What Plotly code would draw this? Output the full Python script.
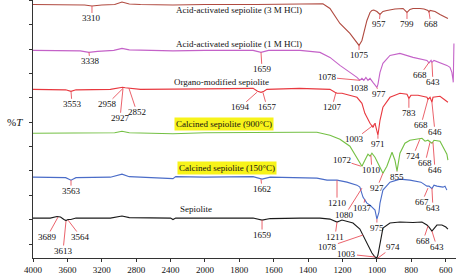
import numpy as np
import plotly.graph_objects as go

# ---------------- data (wavenumber cm-1, offset %T in arbitrary units) ----------------
w_3m = [4000, 3600, 3400, 3314, 3200, 3050, 2965, 2880, 2750, 2372, 2000, 1700, 1450, 1314, 1273, 1215, 1157, 1116,
        1104, 1087, 1058, 1040, 1029, 1018, 1000, 982, 965, 942, 895, 848, 825, 808, 790, 750, 726, 703, 697, 691,
        662, 633, 599, 587]
t_3m = [240, 240, 239.5, 238.5, 239.5, 240, 242.5, 240.5, 240, 239.5, 240, 240, 240.5, 240.7, 236, 221, 211, 202,
        199, 204, 224, 232, 234, 234.5, 233, 230, 233, 234, 235.5, 236, 232, 235, 236, 236, 235.5, 234, 232.5, 234,
        233, 230, 227, 226]

w_1m = [4000, 3600, 3450, 3349, 3250, 3060, 2965, 2880, 2700, 2372, 2000, 1720, 1674, 1630, 1447, 1331, 1273, 1215,
        1157, 1116, 1099, 1087, 1076, 1064, 1052, 1040, 1023, 1006, 1000, 994, 982, 965, 924, 866, 790, 709, 697,
        685, 680, 668, 633, 593, 575, 564, 557, 556, 552]
t_1m = [194, 194, 193.5, 192, 193, 194, 196, 194.5, 194, 193.5, 194, 194, 192, 194, 194, 192, 187, 179,
        172, 167, 164, 166, 164, 167, 164, 166, 162, 158, 157, 160, 172, 181, 189, 191, 187, 184, 181.5,
        184, 182, 184, 182, 179, 177, 172, 164, 162, 201]

w_org = [4000, 3700, 3620, 3558, 3500, 3100, 3000, 2958, 2927, 2880, 2852, 2750, 2000, 1720, 1694, 1674, 1657, 1640,
         1450, 1273, 1244, 1232, 1203, 1157, 1116, 1087, 1070, 1040, 1023, 1011, 1000, 994, 982, 965, 924, 866,
         825, 814, 802, 761, 709, 703, 691, 680, 674, 633, 610, 587]
t_org = [155, 155, 154.5, 153, 154.5, 155, 156, 157, 156.5, 156, 156, 155, 155.5, 156, 153, 152, 153, 155,
         156, 155, 152, 151, 151, 149, 147, 141, 131, 121, 117, 121, 114, 109, 124, 137, 147, 151,
         150, 146, 149, 149, 147, 145, 147, 142, 147, 148, 145, 142]

w_900 = [4000, 3600, 3300, 3050, 2965, 2880, 2372, 2000, 1447, 1349, 1273, 1215, 1157, 1116, 1087, 1070, 1052, 1040,
         1029, 1011, 982, 965, 942, 912, 895, 883, 866, 837, 808, 761, 738, 720, 703, 680, 668, 633, 610, 593, 587]
t_900 = [111, 111, 111, 111.5, 113, 111.5, 110.5, 111.5, 112, 112, 109, 105, 98, 87, 78, 84, 90, 88,
         91, 87, 77, 71, 78, 92, 84, 73, 91, 101, 104, 105, 106, 103, 104, 101, 104, 103, 96, 90, 84]

w_150 = [4000, 3700, 3620, 3558, 3500, 3100, 2965, 2880, 2372, 2340, 2000, 1720, 1668, 1620, 1447, 1349, 1290, 1232,
         1174, 1116, 1099, 1081, 1058, 1040, 1011, 1000, 988, 982, 965, 924, 866, 808, 744, 709, 697, 680, 668,
         651, 616, 604, 593]
t_150 = [67, 67, 66.5, 64, 66.5, 67, 70, 67.5, 65.5, 67.5, 67, 67.5, 65, 67, 66.5, 66, 64, 64,
         62, 59, 57, 47, 41, 39, 34, 25, 32, 41, 54, 62, 65, 64, 62, 58, 58, 55.5, 59,
         58, 57, 58, 54]

w_sep = [4000, 3800, 3721, 3680, 3640, 3616, 3593, 3560, 3500, 3100, 2965, 2880, 2400, 2372, 2340, 2000, 1720, 1668,
         1620, 1447, 1331, 1273, 1232, 1203, 1139, 1099, 1081, 1052, 1029, 1011, 1000, 994, 982, 965, 924, 866,
         790, 738, 709, 697, 680, 668, 651, 622, 599, 587]
t_sep = [26, 26, 27.5, 27, 24.5, 23.5, 24.5, 24.5, 26, 26, 28, 26.5, 26, 24.5, 26, 26, 26, 24,
         25.5, 26, 26, 25, 22, 24, 21, 15, 9, -1, -9, -13, -14, -11, 1, 16, 21, 22,
         21.5, 22, 19, 17, 13, 16, 19, 19, 17, 15]

series_names = ["Acid-activated sepiolite (3 M HCl)", "Acid-activated sepiolite (1 M HCl)",
                "Organo-modified sepiolite", "Calcined sepiolite (900°C)", "Calcined sepiolite (150°C)", "Sepiolite"]
series_colors = ["#b04a40", "#c462c8", "#e8383f", "#74c044", "#4a6cc8", "#1a1a1a"]
series_w = [w_3m, w_1m, w_org, w_900, w_150, w_sep]
series_t = [t_3m, t_1m, t_org, t_900, t_150, t_sep]

# series caption positions (wavenumber, y) and highlight flag
cap_w = [1802, 1802, 1901, 1890, 1872, 2104]
cap_y = [234, 200, 162, 120, 76, 35]
cap_hl = [False, False, False, True, True, False]

# peak labels: text, tip wavenumber, tip y, label wavenumber, label y (None tip -> no leader)
peak_text = ["3310", "1075", "957", "799", "668",
             "3338", "1659", "1078", "1038", "977", "668", "643",
             "3553", "2958", "2927", "2852", "1694", "1657", "1207", "1003", "971", "783", "668", "646",
             "1072", "1010", "927", "855", "724", "668", "646",
             "3563", "1662", "1210", "1080", "1037", "975", "667", "643",
             "3689", "3613", "3564", "1659", "1211", "1078", "1003", "974", "668", "643"]
tip_w = [3314, 1104, 982, 825, 697,
         3349, 1674, 1099, None, 1000, 697, 680,
         3558, 2953, 2953, 2884, 1698, 1663, 1238, 1006, 994, 814, 703, 680,
         1093, 1035, 965, 883, 750, 691, 674,
         3558, 1674, 1232, 1087, 1070, 1000, 703, 680,
         3709, 3616, 3593, 1668, 1232, 1081, 1011, 994, 703, 680]
tip_y = [238.5, 199, 230, 232, 232.5,
         192, 192, 164, None, 157, 182, 182,
         153, 156, 156, 156, 152, 152, 152, 121, 109, 146, 145, 142,
         78, 89, 71, 73, 105, 102, 102,
         64, 65, 64, 56, 45, 25, 56, 56,
         27, 23, 24, 24, 22, 9, -13, -14, 18, 13]
lab_w = [3314, 1104, 988, 825, 686,
         3337, 1668, 1290, 1104, 988, 750, 674,
         3546, 3139, 2988, 2791, 1796, 1639, 1261, 1128, 994, 814, 744, 662,
         1203, 1029, 1000, 883, 790, 720, 662,
         3558, 1668, 1232, 1186, 1081, 1000, 738, 674,
         3837, 3651, 3442, 1668, 1244, 1285, 1174, 907, 732, 651]
lab_y = [226, 189, 220, 220, 220,
         183, 175, 167, 156, 150, 169, 162,
         140, 140, 126, 132, 137, 137, 137, 105, 100, 131, 119, 112,
         84, 74, 56, 67, 88, 81, 74,
         53, 55, 41, 29, 36, 16, 42, 36,
         7, -7, 7, 9, 7, -3, -10, -3, 3, -3]

x_ticks = [4000, 3600, 3200, 2800, 2400, 2000, 1800, 1600, 1400, 1200, 1000, 800, 600]


# two-scale wavenumber axis (400 cm-1 per division above 2000, 200 below)
def xpos(w):
    w = np.asarray(w, dtype=float)
    return np.where(w >= 2000, (4000 - w) / 400.0, 5 + (2000 - w) / 200.0)


FONT = "Liberation Serif"
fig = go.Figure()
for name, col, ws, ts in zip(series_names, series_colors, series_w, series_t):
    fig.add_trace(go.Scatter(x=xpos(ws), y=ts, mode="lines", name=name,
                             line=dict(color=col, width=1.1), showlegend=False, hoverinfo="skip"))

for name, cw, cy, hl in zip(series_names, cap_w, cap_y, cap_hl):
    fig.add_annotation(x=float(xpos(cw)), y=cy, text=name, showarrow=False, xanchor="center", yanchor="middle",
                       font=dict(family=FONT, size=9, color="#111"),
                       bgcolor="#f7f31a" if hl else "rgba(0,0,0,0)", borderpad=1)

for txt, tw, ty, lw, ly in zip(peak_text, tip_w, tip_y, lab_w, lab_y):
    if tw is None:
        fig.add_annotation(x=float(xpos(lw)), y=ly, text=txt, showarrow=False, xanchor="center", yanchor="middle",
                           font=dict(family=FONT, size=9, color="#111"))
    else:
        fig.add_annotation(x=float(xpos(tw)), y=ty, ax=float(xpos(lw)), ay=ly, axref="x", ayref="y",
                           text=txt, showarrow=True, arrowhead=0, arrowwidth=0.9, arrowcolor="#e8505a",
                           standoff=0, startstandoff=0, borderpad=0,
                           font=dict(family=FONT, size=9, color="#111"))

fig.add_annotation(xref="paper", yref="paper", x=-0.043, y=0.527, xanchor="center", yanchor="middle",
                   text="%<i>T</i>", showarrow=False,
                   font=dict(family=FONT, size=11, color="#111"))

fig.update_layout(
    width=461, height=276,
    margin=dict(l=33, r=5, t=0, b=18),
    paper_bgcolor="white", plot_bgcolor="white",
    font=dict(family=FONT),
    xaxis=dict(range=[0, 12.3], tickvals=list(xpos(x_ticks)), ticktext=[str(v) for v in x_ticks],
               ticks="outside", ticklen=3, tickcolor="#333", showline=True, linecolor="#333", linewidth=1,
               showgrid=False, zeroline=False, tickfont=dict(family=FONT, size=9, color="#111")),
    yaxis=dict(range=[-14, 244.5], tick0=0, dtick=24.4, ticks="outside", ticklen=3, tickcolor="#333",
               showticklabels=False, showline=True, linecolor="#333", linewidth=1,
               showgrid=False, zeroline=False),
)
fig.write_html("out.html")
